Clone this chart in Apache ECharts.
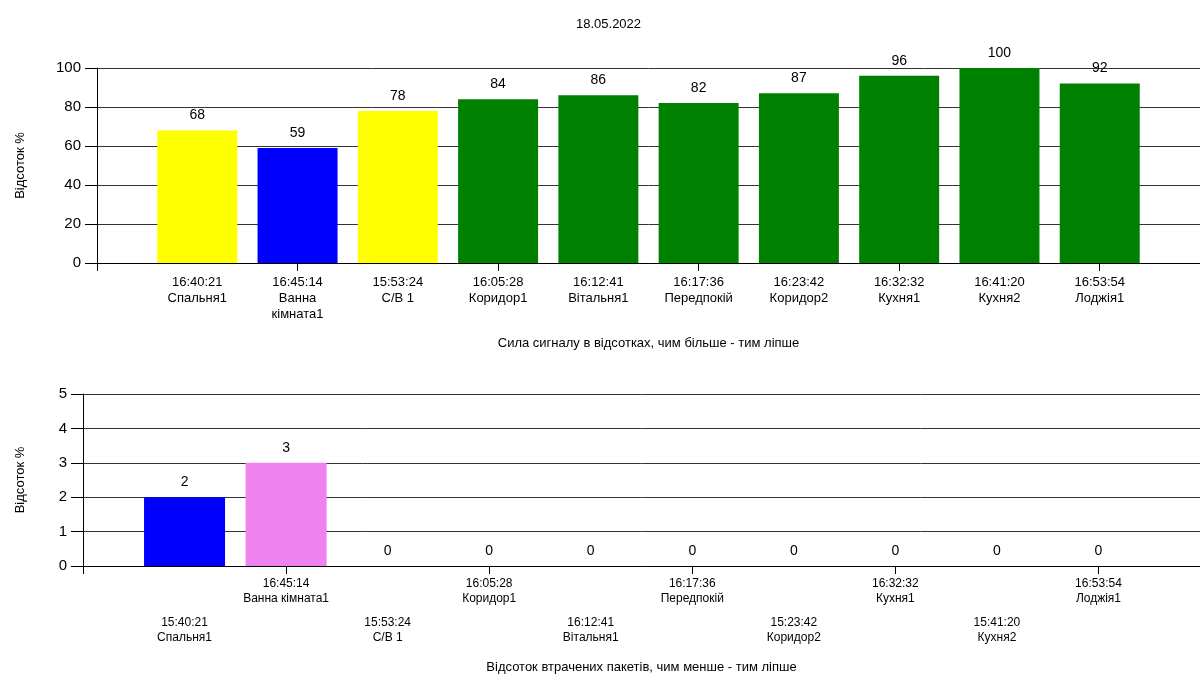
<!DOCTYPE html>
<html>
<head>
<meta charset="utf-8">
<script src="https://cdn.jsdelivr.net/npm/echarts@6/dist/echarts.min.js"></script>
<style>
  html, body { margin: 0; padding: 0; background: #fff; }
  #chart { width: 1200px; height: 675px; }
</style>
</head>
<body>
<div id="chart"></div>
<script>
// Measurement date and room list
const reportDate = '18.05.2022';
const rooms = ['Спальня1', 'Ванна кімната1', 'С/В 1', 'Коридор1', 'Вітальня1',
               'Передпокій', 'Коридор2', 'Кухня1', 'Кухня2', 'Лоджія1'];

// Signal strength measurements (time of measurement per room, percent)
const signalTimes = ['16:40:21', '16:45:14', '15:53:24', '16:05:28', '16:12:41',
                     '16:17:36', '16:23:42', '16:32:32', '16:41:20', '16:53:54'];
const signalValues = [68, 59, 78, 84, 86, 82, 87, 96, 100, 92];

// Packet loss measurements (time of measurement per room, percent)
const lossTimes = ['15:40:21', '16:45:14', '15:53:24', '16:05:28', '16:12:41',
                   '16:17:36', '15:23:42', '16:32:32', '15:41:20', '16:53:54'];
const lossValues = [2, 3, 0, 0, 0, 0, 0, 0, 0, 0];

// Axis texts
const signalAxisTitle = 'Сила сигналу в відсотках, чим більше - тим ліпше';
const lossAxisTitle = 'Відсоток втрачених пакетів, чим менше - тим ліпше';
const yAxisTitle = 'Відсоток %';

// Bar colours
const signalColors = ['#FFFF00', '#0000FF', '#FFFF00', '#008000', '#008000',
                      '#008000', '#008000', '#008000', '#008000', '#008000'];
const lossColors = ['#0000FF', '#EE82EE', '#008000', '#008000', '#008000',
                    '#008000', '#008000', '#008000', '#008000', '#008000'];

const FONT = 'Liberation Sans, Arial, sans-serif';
const positions = rooms.map((_, i) => i + 1);
const evenPositions = positions.filter(p => p % 2 === 0);
const oddPositions = positions.filter(p => p % 2 === 1);

function wrapName(name) {
  return (name.length > 10 && name.indexOf(' ') >= 0) ? name.replace(' ', '\n') : name;
}

const chart = echarts.init(document.getElementById('chart'), null, { renderer: 'canvas' });

const yAxisCommon = {
  type: 'value',
  axisLine: { show: true, lineStyle: { color: '#000', width: 1 } },
  axisTick: { show: true, length: 12, lineStyle: { color: '#000' } },
  axisLabel: { color: '#000', fontSize: 15, fontFamily: FONT, margin: 16 },
  splitLine: { show: true, lineStyle: { color: '#333', width: 1 } },
  name: yAxisTitle,
  nameLocation: 'middle',
  nameRotate: 90,
  nameTextStyle: { color: '#000', fontSize: 13, fontFamily: FONT }
};

const xAxisCommon = {
  type: 'value',
  position: 'bottom',
  min: 0,
  max: 11,
  splitLine: { show: false },
  axisLine: { show: true, onZero: false, lineStyle: { color: '#000', width: 1 } }
};

chart.setOption({
  animation: false,
  backgroundColor: '#fff',
  title: {
    text: reportDate,
    left: 571,
    top: 13,
    textStyle: { color: '#000', fontSize: 13, fontWeight: 'normal', fontFamily: FONT }
  },
  grid: [
    { left: 97, top: 68, width: 1111, height: 195 },
    { left: 83, top: 394, width: 1125, height: 172 }
  ],
  xAxis: [
    Object.assign({}, xAxisCommon, {
      gridIndex: 0,
      axisTick: { show: true, length: 8, customValues: [0].concat(evenPositions), lineStyle: { color: '#000' } },
      axisLabel: {
        customValues: positions,
        color: '#000', fontSize: 13, fontFamily: FONT, lineHeight: 16, margin: 11,
        formatter: v => signalTimes[v - 1] + '\n' + wrapName(rooms[v - 1])
      },
      name: signalAxisTitle,
      nameLocation: 'middle',
      nameGap: 74,
      nameTextStyle: { color: '#000', fontSize: 13, fontFamily: FONT }
    }),
    Object.assign({}, xAxisCommon, {
      gridIndex: 1,
      axisTick: { show: true, length: 8, customValues: [0].concat(evenPositions), lineStyle: { color: '#000' } },
      axisLabel: {
        customValues: evenPositions,
        color: '#000', fontSize: 12, fontFamily: FONT, lineHeight: 15, margin: 10,
        formatter: v => lossTimes[v - 1] + '\n' + rooms[v - 1]
      },
      name: lossAxisTitle,
      nameLocation: 'middle',
      nameGap: 95,
      nameTextStyle: { color: '#000', fontSize: 13, fontFamily: FONT }
    }),
    // second row of staggered labels on the lower chart
    Object.assign({}, xAxisCommon, {
      gridIndex: 1,
      offset: 0,
      axisLine: { show: false, onZero: false },
      axisTick: { show: false },
      axisLabel: {
        customValues: oddPositions,
        color: '#000', fontSize: 12, fontFamily: FONT, lineHeight: 15, margin: 49,
        formatter: v => lossTimes[v - 1] + '\n' + rooms[v - 1]
      }
    })
  ],
  yAxis: [
    Object.assign({}, yAxisCommon, { gridIndex: 0, min: 0, max: 100, interval: 20, nameGap: 70 }),
    Object.assign({}, yAxisCommon, { gridIndex: 1, min: 0, max: 5, interval: 1, nameGap: 56 })
  ],
  series: [
    {
      type: 'bar',
      xAxisIndex: 0,
      yAxisIndex: 0,
      barWidth: 80,
      data: signalValues.map((v, i) => ({ value: [i + 1, v], itemStyle: { color: signalColors[i] } })),
      label: {
        show: true, position: 'top', distance: 8,
        color: '#000', fontSize: 14, fontFamily: FONT,
        formatter: p => p.value[1]
      }
    },
    {
      type: 'bar',
      xAxisIndex: 1,
      yAxisIndex: 1,
      barWidth: 81,
      data: lossValues.map((v, i) => ({ value: [i + 1, v], itemStyle: { color: lossColors[i] } })),
      label: {
        show: true, position: 'top', distance: 8,
        color: '#000', fontSize: 14, fontFamily: FONT,
        formatter: p => p.value[1]
      }
    }
  ]
});
</script>
</body>
</html>
